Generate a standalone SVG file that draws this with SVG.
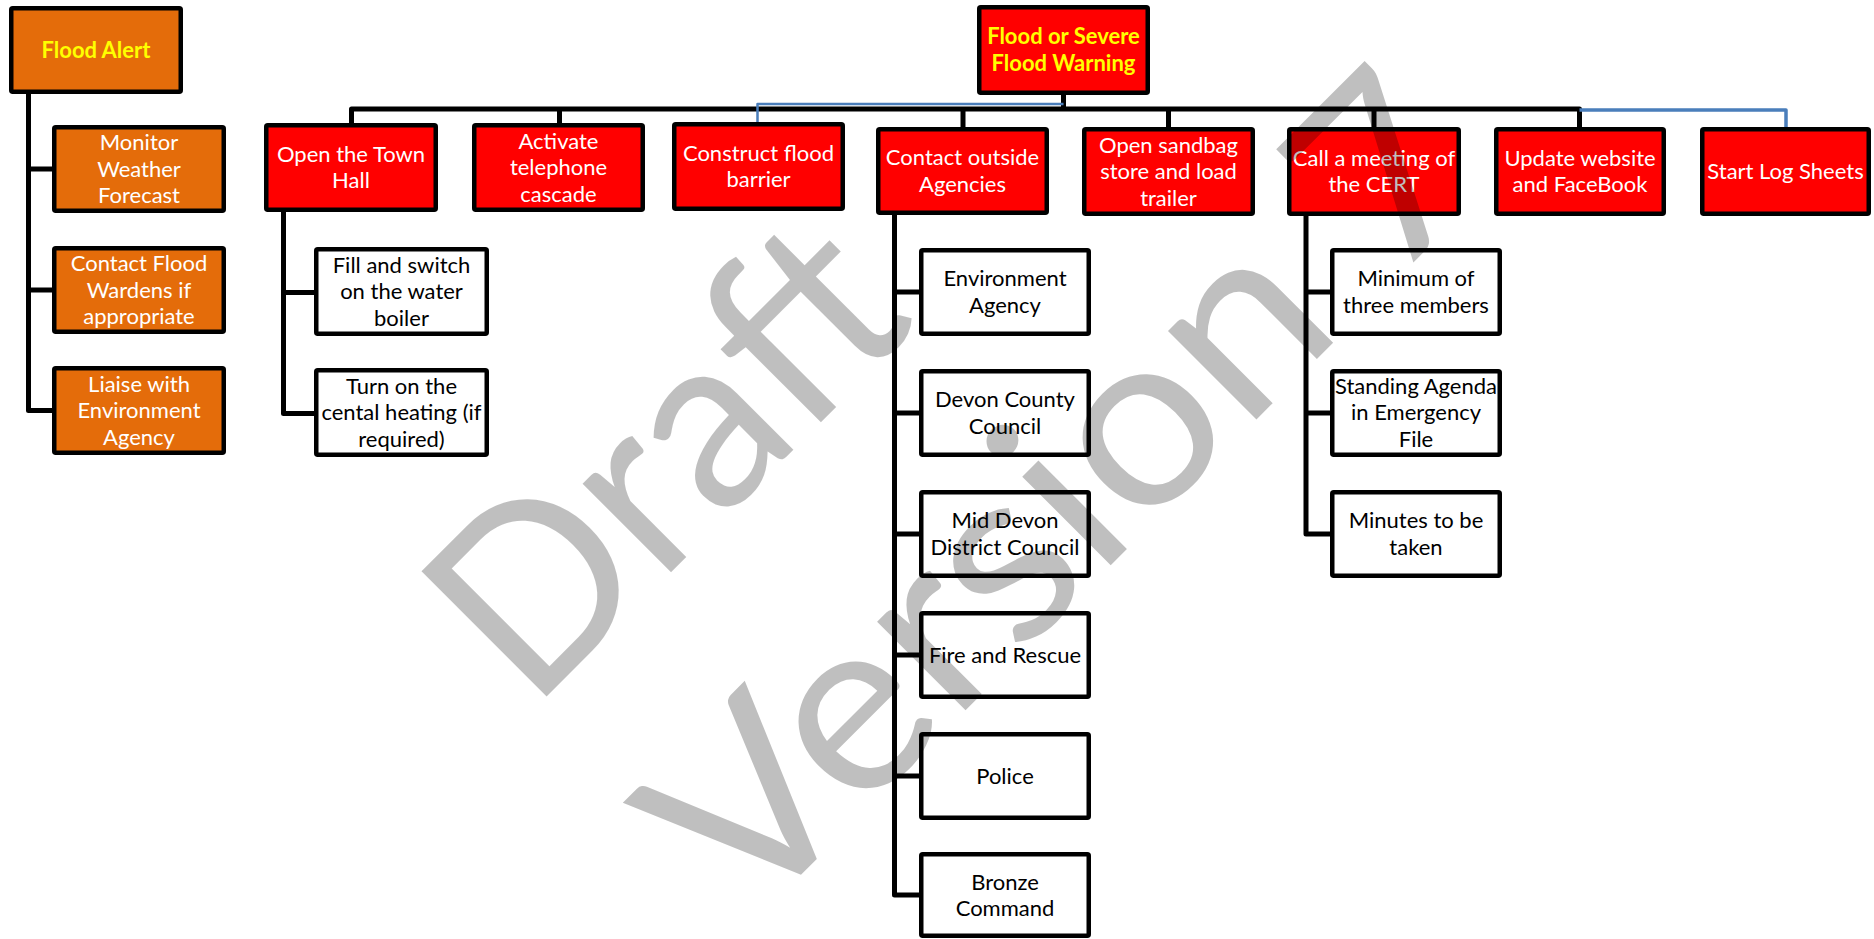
<svg xmlns="http://www.w3.org/2000/svg" width="1874" height="939" viewBox="0 0 1874 939">
<style>
.box{stroke:#000;stroke-width:4.5}
.or{fill:#E46C0A}
.rd{fill:#FF0000}
.wh{fill:#FFFFFF}
.t{font-family:Lato,"Liberation Sans",sans-serif;font-size:22px;text-anchor:middle}
.tw{fill:#FFFFFF}
.tk{fill:#000000}
.ty{fill:#FFFF00;font-weight:bold}
.ln{stroke:#000;stroke-width:5;fill:none;stroke-linejoin:round}
.bl{stroke:#4A7EBB;fill:none;stroke-linejoin:round}
.wm{font-family:Lato,"Liberation Sans",sans-serif;font-size:247px;fill:#000;fill-opacity:0.25}
</style>
<rect width="1874" height="939" fill="#FFFFFF"/>
<g id="connectors">
<path class="ln" d="M28.5 94V410.5H52M28.5 169H52M28.5 290H52"/>
<path class="ln" d="M351.5 123V109H1579.5V127M559.5 109V123M963 109V127M1168.5 109V127M1374 109V127M1063.5 95V109"/>
<path class="bl" stroke-width="2.5" d="M1063.5 104H757.5V122"/>
<path class="bl" stroke-width="3.5" d="M1579.5 110H1786V127"/>
<path class="ln" d="M283.5 212V413.5H314M283.5 292.5H314"/>
<path class="ln" d="M894.5 215V895H919M894.5 292H919M894.5 413H919M894.5 534H919M894.5 655H919M894.5 776H919"/>
<path class="ln" d="M1306 216V534H1330M1306 292H1330M1306 413H1330"/>
</g>
<g id="flood-alert"><rect class="box or" x="11.25" y="8.25" width="169.5" height="83.5" rx="1.5"/><text class="t ty" x="96" y="57.5">Flood Alert</text></g>
<g id="monitor-weather"><rect class="box or" x="54.25" y="127.25" width="169.5" height="83.5" rx="1.5"/><text class="t tw"><tspan x="139" y="150">Monitor</tspan><tspan x="139" y="176.5">Weather</tspan><tspan x="139" y="203">Forecast</tspan></text></g>
<g id="contact-wardens"><rect class="box or" x="54.25" y="248.25" width="169.5" height="83.5" rx="1.5"/><text class="t tw"><tspan x="139" y="271">Contact Flood</tspan><tspan x="139" y="297.5">Wardens if</tspan><tspan x="139" y="324">appropriate</tspan></text></g>
<g id="liaise-ea"><rect class="box or" x="54.25" y="368.25" width="169.5" height="84.5" rx="1.5"/><text class="t tw"><tspan x="139" y="391.5">Liaise with</tspan><tspan x="139" y="418">Environment</tspan><tspan x="139" y="444.5">Agency</tspan></text></g>
<g id="flood-warning"><rect class="box rd" x="979.25" y="7.25" width="168.5" height="85.5" rx="1.5"/><text class="t ty"><tspan x="1063.5" y="44.25">Flood or Severe</tspan><tspan x="1063.5" y="70.75">Flood Warning</tspan></text></g>
<g id="town-hall"><rect class="box rd" x="266.25" y="125.25" width="169.5" height="84.5" rx="1.5"/><text class="t tw"><tspan x="351" y="161.75">Open the Town</tspan><tspan x="351" y="188.25">Hall</tspan></text></g>
<g id="telephone"><rect class="box rd" x="474.25" y="125.25" width="168.5" height="84.5" rx="1.5"/><text class="t tw"><tspan x="558.5" y="148.5">Activate</tspan><tspan x="558.5" y="175">telephone</tspan><tspan x="558.5" y="201.5">cascade</tspan></text></g>
<g id="flood-barrier"><rect class="box rd" x="674.25" y="124.25" width="168.5" height="84.5" rx="1.5"/><text class="t tw"><tspan x="758.5" y="160.75">Construct flood</tspan><tspan x="758.5" y="187.25">barrier</tspan></text></g>
<g id="outside-agencies"><rect class="box rd" x="878.25" y="129.25" width="168.5" height="83.5" rx="1.5"/><text class="t tw"><tspan x="962.5" y="165.25">Contact outside</tspan><tspan x="962.5" y="191.75">Agencies</tspan></text></g>
<g id="sandbag"><rect class="box rd" x="1084.25" y="129.25" width="168.5" height="84.5" rx="1.5"/><text class="t tw"><tspan x="1168.5" y="152.5">Open sandbag</tspan><tspan x="1168.5" y="179">store and load</tspan><tspan x="1168.5" y="205.5">trailer</tspan></text></g>
<g id="cert"><rect class="box rd" x="1289.25" y="129.25" width="169.5" height="84.5" rx="1.5"/><text class="t tw"><tspan x="1374" y="165.75">Call a meeting of</tspan><tspan x="1374" y="192.25">the CERT</tspan></text></g>
<g id="website"><rect class="box rd" x="1496.25" y="129.25" width="167.5" height="84.5" rx="1.5"/><text class="t tw"><tspan x="1580" y="165.75">Update website</tspan><tspan x="1580" y="192.25">and FaceBook</tspan></text></g>
<g id="log-sheets"><rect class="box rd" x="1702.25" y="129.25" width="166.5" height="84.5" rx="1.5"/><text class="t tw" x="1785.5" y="179">Start Log Sheets</text></g>
<g id="water-boiler"><rect class="box wh" x="316.25" y="249.25" width="170.5" height="84.5" rx="1.5"/><text class="t tk"><tspan x="401.5" y="272.5">Fill and switch</tspan><tspan x="401.5" y="299">on the water</tspan><tspan x="401.5" y="325.5">boiler</tspan></text></g>
<g id="central-heating"><rect class="box wh" x="316.25" y="370.25" width="170.5" height="84.5" rx="1.5"/><text class="t tk"><tspan x="401.5" y="393.5">Turn on the</tspan><tspan x="401.5" y="420">cental heating (if</tspan><tspan x="401.5" y="446.5">required)</tspan></text></g>
<g id="environment-agency"><rect class="box wh" x="921.25" y="250.25" width="167.5" height="83.5" rx="1.5"/><text class="t tk"><tspan x="1005" y="286.25">Environment</tspan><tspan x="1005" y="312.75">Agency</tspan></text></g>
<g id="devon-county"><rect class="box wh" x="921.25" y="371.25" width="167.5" height="83.5" rx="1.5"/><text class="t tk"><tspan x="1005" y="407.25">Devon County</tspan><tspan x="1005" y="433.75">Council</tspan></text></g>
<g id="mid-devon"><rect class="box wh" x="921.25" y="492.25" width="167.5" height="83.5" rx="1.5"/><text class="t tk"><tspan x="1005" y="528.25">Mid Devon</tspan><tspan x="1005" y="554.75">District Council</tspan></text></g>
<g id="fire-rescue"><rect class="box wh" x="921.25" y="613.25" width="167.5" height="83.5" rx="1.5"/><text class="t tk" x="1005" y="662.5">Fire and Rescue</text></g>
<g id="police"><rect class="box wh" x="921.25" y="734.25" width="167.5" height="83.5" rx="1.5"/><text class="t tk" x="1005" y="783.5">Police</text></g>
<g id="bronze-command"><rect class="box wh" x="921.25" y="854.25" width="167.5" height="81.5" rx="1.5"/><text class="t tk"><tspan x="1005" y="889.5">Bronze</tspan><tspan x="1005" y="916">Command</tspan></text></g>
<g id="min-members"><rect class="box wh" x="1332.25" y="250.25" width="167.5" height="83.5" rx="1.5"/><text class="t tk"><tspan x="1416" y="286.25">Minimum of</tspan><tspan x="1416" y="312.75">three members</tspan></text></g>
<g id="standing-agenda"><rect class="box wh" x="1332.25" y="371.25" width="167.5" height="83.5" rx="1.5"/><text class="t tk"><tspan x="1416" y="393.5">Standing Agenda</tspan><tspan x="1416" y="420">in Emergency</tspan><tspan x="1416" y="446.5">File</tspan></text></g>
<g id="minutes"><rect class="box wh" x="1332.25" y="492.25" width="167.5" height="83.5" rx="1.5"/><text class="t tk"><tspan x="1416" y="528.25">Minutes to be</tspan><tspan x="1416" y="554.75">taken</tspan></text></g>
<g id="watermark" transform="rotate(-45)">
<text class="wm" x="-128" y="879" textLength="550" lengthAdjust="spacingAndGlyphs">Draft</text>
<text class="wm" x="-128" y="1185" textLength="1060" lengthAdjust="spacingAndGlyphs">Version 7</text>
</g>
</svg>
